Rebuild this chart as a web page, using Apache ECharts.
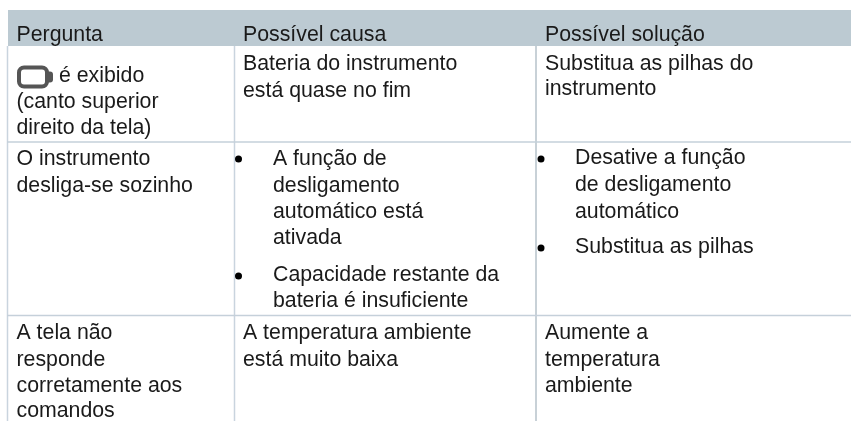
<!DOCTYPE html>
<html>
<head>
<meta charset="utf-8">
<style>html,body{margin:0;padding:0;background:#fff}#main{width:851px;height:421px}</style>
<script src="https://cdn.jsdelivr.net/npm/echarts@6/dist/echarts.min.js"></script>
</head>
<body>
<div id="main"></div>
<script>
// table text
var headers = ['Pergunta', 'Possível causa', 'Possível solução'];
var q1a = ['é exibido'];
var q1b = ['(canto superior', 'direito da tela)'];
var q2 = ['O instrumento', 'desliga-se sozinho'];
var q3 = ['A tela não', 'responde', 'corretamente aos', 'comandos'];
var c1 = ['Bateria do instrumento', 'está quase no fim'];
var c2a = ['A função de', 'desligamento', 'automático está', 'ativada'];
var c2b = ['Capacidade restante da', 'bateria é insuficiente'];
var c3 = ['A temperatura ambiente', 'está muito baixa'];
var s1 = ['Substitua as pilhas do', 'instrumento'];
var s2a = ['Desative a função', 'de desligamento', 'automático'];
var s2b = ['Substitua as pilhas'];
var s3 = ['Aumente a', 'temperatura', 'ambiente'];

// layout of the table, in page pixels
var W = 851, H = 421;
var colX = [16.5, 243, 545];
var listX = [273, 575];
var bulletX = [238.5, 541];
var blocks = [
  [headers[0], colX[0], [42]], [headers[1], colX[1], [42]], [headers[2], colX[2], [42]],
  [q1a, 59, [83]], [q1b, colX[0], [109, 135]], [q2, colX[0], [166, 193]], [q3, colX[0], [340, 367, 393, 418]],
  [c1, colX[1], [71, 98]], [c2a, listX[0], [166, 193, 219, 245]], [c2b, listX[0], [282, 308]], [c3, colX[1], [340, 367]],
  [s1, colX[2], [71, 96]], [s2a, listX[1], [165, 192, 219]], [s2b, listX[1], [254]], [s3, colX[2], [340, 367, 393]]
];
var textItems = [];
blocks.forEach(function (b) {
  [].concat(b[0]).forEach(function (t, i) {
    textItems.push([b[1], b[2][i], t]);
  });
});
var bullets = [[bulletX[0], 159], [bulletX[0], 276], [bulletX[1], 159], [bulletX[1], 248]];
var lines = [
  [7.5, 46, 7.5, H, 1.5, '#c9d4de'], [234.5, 46, 234.5, H, 1.5, '#c9d4de'], [536, 46, 536, H, 2, '#c8d1d7'],
  [7, 142, W, 142, 1.5, '#c5d0da'], [7, 315.5, W, 315.5, 1.5, '#c5d0da']
];

var myChart = echarts.init(document.getElementById('main'), null, { renderer: 'canvas' });

function pixelRender(build) {
  return function (params, api) {
    var c = function (x, y) { return api.coord([x, y]); };
    return build(params.dataIndex, c);
  };
}

myChart.setOption({
  animation: false,
  grid: { left: 0, right: 0, top: 0, bottom: 0 },
  xAxis: { type: 'value', min: 0, max: W, show: false },
  yAxis: { type: 'value', min: 0, max: H, inverse: true, show: false },
  series: [
    { // header band
      type: 'custom', silent: true, data: [0], clip: false,
      renderItem: pixelRender(function (i, c) {
        var a = c(8, 10), b = c(W, 46);
        return { type: 'rect', shape: { x: a[0], y: a[1], width: b[0] - a[0], height: b[1] - a[1] }, style: { fill: '#bccad2' } };
      })
    },
    { // grid lines
      type: 'custom', silent: true, data: lines.map(function (l, i) { return i; }), clip: false,
      renderItem: pixelRender(function (i, c) {
        var l = lines[i], a = c(l[0], l[1]), b = c(l[2], l[3]);
        return { type: 'line', shape: { x1: a[0], y1: a[1], x2: b[0], y2: b[1] }, style: { stroke: l[5], lineWidth: l[4] } };
      })
    },
    { // low battery icon
      type: 'custom', silent: true, data: [0], clip: false,
      renderItem: pixelRender(function (i, c) {
        var a = c(19, 67.5), n = c(48, 71.5);
        return {
          type: 'group',
          children: [
            { type: 'rect', shape: { x: a[0], y: a[1], width: 28, height: 19, r: 5 }, style: { fill: '#fff', stroke: '#555', lineWidth: 4 } },
            { type: 'rect', shape: { x: n[0], y: n[1], width: 5, height: 11, r: [0, 3, 3, 0] }, style: { fill: '#555' } }
          ]
        };
      })
    },
    { // bullets
      type: 'custom', silent: true, data: bullets.map(function (b, i) { return i; }), clip: false,
      renderItem: pixelRender(function (i, c) {
        var p = c(bullets[i][0], bullets[i][1]);
        return { type: 'circle', shape: { cx: p[0], cy: p[1], r: 3.5 }, style: { fill: '#000' } };
      })
    },
    { // all the cell text, y is the baseline
      type: 'custom', silent: true, data: textItems.map(function (t, i) { return i; }), clip: false,
      renderItem: pixelRender(function (i, c) {
        var t = textItems[i], p = c(t[0], t[1]);
        return {
          type: 'text',
          style: { x: p[0], y: p[1] - 7, text: t[2], fill: '#1a1a1a', font: '21.3px "Liberation Sans", Arial, sans-serif', align: 'left', verticalAlign: 'middle' }
        };
      })
    }
  ]
});
</script>
</body>
</html>
